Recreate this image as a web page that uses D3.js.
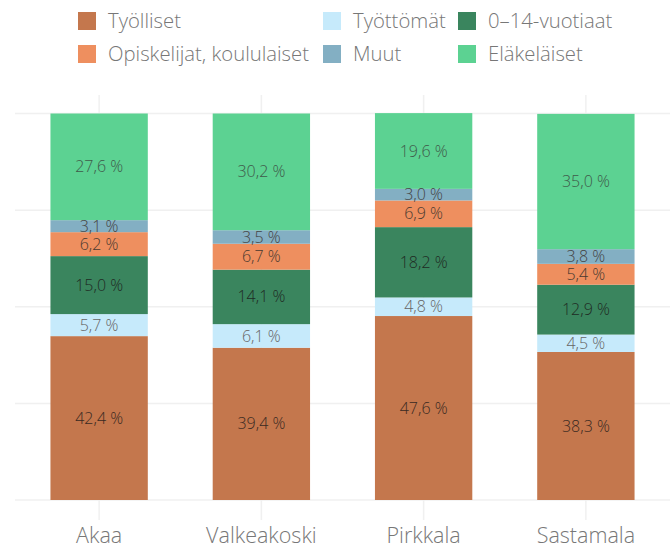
<!DOCTYPE html>
<html>
<head>
<meta charset="utf-8">
<script src="https://cdn.jsdelivr.net/npm/d3@7"></script>
<style>
  body { margin: 0; background: #fff; }
  svg { display: block; font-family: "Open Sans", Lato, sans-serif; font-weight: 300; }
</style>
</head>
<body>
<div id="chart"></div>
<script>
// Data
const municipalities = ["Akaa", "Valkeakoski", "Pirkkala", "Sastamala"];
const groups = ["Työlliset", "Työttömät", "0–14-vuotiaat", "Opiskelijat, koululaiset", "Muut", "Eläkeläiset"];
const tyolliset   = [42.4, 39.4, 47.6, 38.3];
const tyottomat   = [5.7, 6.1, 4.8, 4.5];
const lapset      = [15.0, 14.1, 18.2, 12.9];
const opiskelijat = [6.2, 6.7, 6.9, 5.4];
const muut        = [3.1, 3.5, 3.0, 3.8];
const elakelaiset = [27.6, 30.2, 19.6, 35.0];
const yTicks = [0, 25, 50, 75, 100];

const series = [tyolliset, tyottomat, lapset, opiskelijat, muut, elakelaiset];
const colors = ["#c4774d", "#c6eafb", "#3a855e", "#ee8f5f", "#83afc3", "#5cd292"];
const labelColors = ["#3a2a22", "#666", "#1f2b24", "#4a3a30", "#444", "#3f5a4a"];
const legendOrder = [0, 1, 2, 3, 4, 5];

const width = 670, height = 549;
const svg = d3.select("#chart").append("svg")
    .attr("width", width)
    .attr("height", height);

const x = d3.scaleBand()
    .domain(municipalities)
    .range([18, 667])
    .paddingInner(0.4)
    .paddingOuter(0.2);

const y = d3.scaleLinear()
    .domain([0, 100])
    .range([500, 113.5]);

// Build stacked rows
const rows = municipalities.map((m, i) => {
    const r = { name: m };
    groups.forEach((g, k) => r[g] = series[k][i]);
    return r;
});
const stacked = d3.stack().keys(groups)(rows);

// Gridlines
svg.append("g")
    .selectAll("line")
    .data(yTicks)
    .join("line")
    .attr("x1", 15).attr("x2", width)
    .attr("y1", d => y(d)).attr("y2", d => y(d))
    .attr("stroke", "#f0f0f0")
    .attr("stroke-width", 1.5);

svg.append("g")
    .selectAll("line")
    .data(municipalities)
    .join("line")
    .attr("x1", d => x(d) + x.bandwidth() / 2)
    .attr("x2", d => x(d) + x.bandwidth() / 2)
    .attr("y1", 95).attr("y2", 520)
    .attr("stroke", "#f0f0f0")
    .attr("stroke-width", 1.5);

// Bars
const layer = svg.append("g")
    .selectAll("g")
    .data(stacked)
    .join("g")
    .attr("fill", (d, i) => colors[i]);

layer.selectAll("rect")
    .data(d => d)
    .join("rect")
    .attr("x", d => x(d.data.name))
    .attr("width", x.bandwidth())
    .attr("y", d => y(d[1]))
    .attr("height", d => y(d[0]) - y(d[1]));

// Value labels
const fmt = v => v.toFixed(1).replace(".", ",") + " %";
svg.append("g")
    .selectAll("g")
    .data(stacked)
    .join("g")
    .attr("fill", (d, i) => labelColors[i])
    .selectAll("text")
    .data(d => d)
    .join("text")
    .attr("x", d => x(d.data.name) + x.bandwidth() / 2)
    .attr("y", d => (y(d[0]) + y(d[1])) / 2)
    .attr("dy", "0.35em")
    .attr("text-anchor", "middle")
    .style("font-size", "16px")
    .text(d => fmt(d[1] - d[0]));

// X axis labels
svg.append("g")
    .selectAll("text")
    .data(municipalities)
    .join("text")
    .attr("x", d => x(d) + x.bandwidth() / 2)
    .attr("y", 543)
    .attr("text-anchor", "middle")
    .attr("fill", "#777")
    .style("font-size", "21.5px")
    .text(d => d);

// Legend
const colX = [78, 323, 458];
const rowY = [12, 45];
const legend = svg.append("g")
    .selectAll("g")
    .data(legendOrder)
    .join("g")
    .attr("transform", (d, i) => `translate(${colX[i % 3]},${rowY[Math.floor(i / 3)]})`);

legend.append("rect")
    .attr("width", 18)
    .attr("height", 18)
    .attr("fill", d => colors[d]);

legend.append("text")
    .attr("x", 30)
    .attr("y", 9)
    .attr("dy", "0.35em")
    .attr("fill", "#777")
    .style("font-size", "20.3px")
    .text(d => groups[d]);
</script>
</body>
</html>
